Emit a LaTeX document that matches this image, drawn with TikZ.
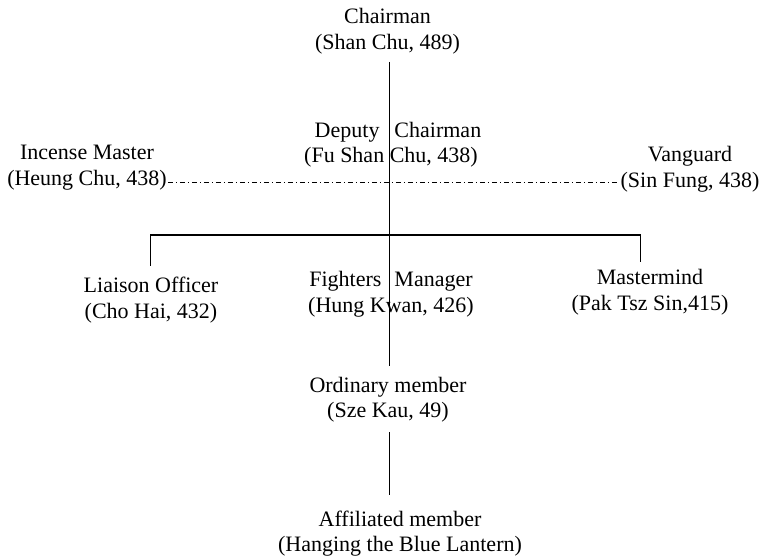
\documentclass[tikz,border=0pt]{standalone}
\usepackage{fontspec}
\setmainfont{Liberation Serif}
\begin{document}
\begin{tikzpicture}[x=1bp,y=-1bp,
  lbl/.style={anchor=base,align=center,inner sep=1bp,
    font={\fontsize{22bp}{25.5bp}\selectfont}},
  conn/.style={line width=1.3bp,line cap=butt},
  dotdash/.style={line width=0.75bp,dash pattern=on 5bp off 3bp on 1bp off 3bp}]
\useasboundingbox (0,0) rectangle (764,559);
% labels (anchor base = baseline of the last line)
\node[lbl] (chair) at (387.5,49.5) {Chairman\\(Shan Chu, 489)};
\node[lbl] (dep) at (391,163) {\hspace*{14bp}Deputy\hspace{15bp}Chairman\\(Fu Shan Chu, 438)};
\node[lbl] (inc) at (87,185.5) {Incense Master\\(Heung Chu, 438)};
\node[lbl] (van) at (690,187.5) {Vanguard\\(Sin Fung, 438)};
\node[lbl] (liai) at (151,318.5) {Liaison Officer\\(Cho Hai, 432)};
\node[lbl] (fight) at (391,312.5) {Fighters\hspace{13bp}Manager\\(Hung Kwan, 426)};
\node[lbl] (mast) at (650,310.5) {Mastermind\\(Pak Tsz Sin,415)};
\node[lbl] (ord) at (388,417.5) {Ordinary member\\(Sze Kau, 49)};
\node[lbl] (aff) at (400,551.5) {Affiliated member\\(Hanging the Blue Lantern)};
% helper coordinates
\coordinate (spx) at (389.5,0);
\coordinate (bary) at (0,235);
\coordinate (dashy) at (0,182);
% connectors
\draw[conn] ([yshift=-12.5bp]chair.base -| spx) -- ([yshift=51.5bp]ord.base -| spx);
\draw[conn] ([yshift=-14.5bp]ord.base -| spx) -- ([yshift=56.5bp]aff.base -| spx);
\draw[conn] ([xshift=-0.5bp,yshift=52.5bp]liai.base) |- ([xshift=-9.5bp]mast.base |- bary)
  -- ([xshift=-9.5bp,yshift=48.5bp]mast.base);
\draw[dotdash] (inc.east |- dashy) -- (van.west |- dashy);
\end{tikzpicture}
\end{document}
